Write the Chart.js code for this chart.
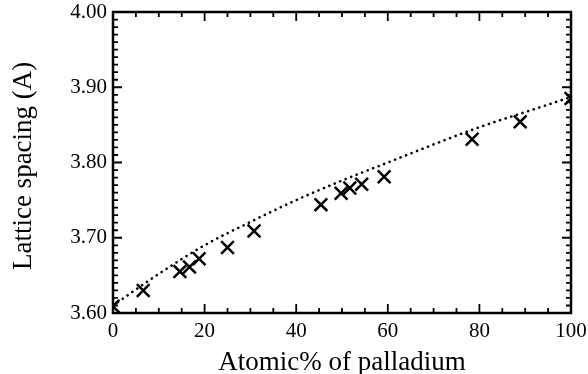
<!DOCTYPE html>
<html>
<head>
<meta charset="utf-8">
<script src="https://cdn.jsdelivr.net/npm/chart.js@4.4.1/dist/chart.umd.min.js"></script>
<style>
  html, body { margin: 0; padding: 0; background: #fff; }
  #wrap { width: 588px; height: 374px; position: relative; }
</style>
</head>
<body>
<div id="wrap"><canvas id="latticeChart"></canvas></div>
<script>
// Measured lattice spacing vs. Pd content
const pdPercent = [0, 6.6, 14.6, 16.7, 18.8, 25.0, 30.8, 45.4, 49.8, 51.7, 54.3, 59.2, 78.4, 88.9, 100];
const spacing   = [3.609, 3.630, 3.655, 3.661, 3.672, 3.687, 3.709, 3.744, 3.759, 3.766, 3.771, 3.781, 3.831, 3.854, 3.885];

// Reference curve (dotted)
const curveX = [0, 10, 20, 30, 40, 50, 60, 70, 80, 90, 100];
const curveY = [3.610, 3.652, 3.690, 3.721, 3.750, 3.776, 3.800, 3.824, 3.847, 3.867, 3.887];

const xTicks = [0, 20, 40, 60, 80, 100];
const yTicks = [3.60, 3.70, 3.80, 3.90, 4.00];

const serif = "'Liberation Serif', 'DejaVu Serif', serif";

// inward ticks on all four sides plus the top/right frame
const frameTicks = {
  id: 'frameTicks',
  afterDraw(chart) {
    const { ctx, chartArea: a, scales: { x, y } } = chart;
    ctx.save();
    ctx.strokeStyle = '#000';
    ctx.lineWidth = 2.5;
    ctx.strokeRect(a.left, a.top, a.right - a.left, a.bottom - a.top);

    ctx.lineWidth = 1.8;
    for (let v = 0; v <= 100; v += 5) {
      const px = x.getPixelForValue(v);
      const len = v % 20 === 0 ? 9 : 5;
      ctx.beginPath();
      ctx.moveTo(px, a.bottom); ctx.lineTo(px, a.bottom - len);
      ctx.moveTo(px, a.top); ctx.lineTo(px, a.top + len);
      ctx.stroke();
    }
    for (let i = 0; i <= 40; i++) {
      const py = y.getPixelForValue(3.6 + i * 0.01);
      const len = i % 10 === 0 ? 9 : 5;
      ctx.beginPath();
      ctx.moveTo(a.left, py); ctx.lineTo(a.left + len, py);
      ctx.moveTo(a.right, py); ctx.lineTo(a.right - len, py);
      ctx.stroke();
    }
    ctx.restore();
  }
};

// keep the plot box fixed: no extra room for overhanging end labels
function noOverhang(s) {
  s.paddingTop = 0;
  s.paddingBottom = 0;
  s.paddingLeft = 0;
  s.paddingRight = 0;
}

const ctx = document.getElementById('latticeChart').getContext('2d');
new Chart(ctx, {
  type: 'scatter',
  data: {
    datasets: [
      {
        label: 'curve',
        data: curveX.map((v, i) => ({ x: v, y: curveY[i] })),
        showLine: true,
        borderColor: '#000',
        borderWidth: 2.6,
        borderDash: [0.1, 5.8],
        borderCapStyle: 'round',
        cubicInterpolationMode: 'monotone',
        pointRadius: 0,
        fill: false
      },
      {
        label: 'measured',
        data: pdPercent.map((v, i) => ({ x: v, y: spacing[i] })),
        pointStyle: 'crossRot',
        pointRadius: 9,
        pointBorderWidth: 2.5,
        borderColor: '#000',
        backgroundColor: '#000'
      }
    ]
  },
  options: {
    responsive: true,
    maintainAspectRatio: false,
    animation: false,
    layout: { padding: { top: 12, right: 17, left: 0, bottom: 0 } },
    plugins: { legend: { display: false }, tooltip: { enabled: false } },
    scales: {
      x: {
        type: 'linear',
        min: 0, max: 100,
        afterBuildTicks: s => { s.ticks = xTicks.map(v => ({ value: v })); },
        afterFit: s => { s.height = 61; noOverhang(s); },
        grid: { display: false, drawTicks: false },
        border: { display: false },
        ticks: { color: '#000', padding: 6, font: { family: serif, size: 21 } },
        title: { display: true, text: 'Atomic% of palladium', color: '#000', padding: 0, font: { family: serif, size: 27, lineHeight: 0.85 } }
      },
      y: {
        type: 'linear',
        min: 3.6, max: 4.0,
        afterBuildTicks: s => { s.ticks = yTicks.map(v => ({ value: v })); },
        afterFit: s => { s.width = 113; noOverhang(s); },
        grid: { display: false, drawTicks: false },
        border: { display: false },
        ticks: { color: '#000', padding: 6, font: { family: serif, size: 21 }, callback: v => v.toFixed(2) },
        title: { display: true, text: 'Lattice spacing (A) ', color: '#000', padding: { top: 8, bottom: 0 }, font: { family: serif, size: 27 } }
      }
    }
  },
  plugins: [frameTicks]
});
</script>
</body>
</html>
